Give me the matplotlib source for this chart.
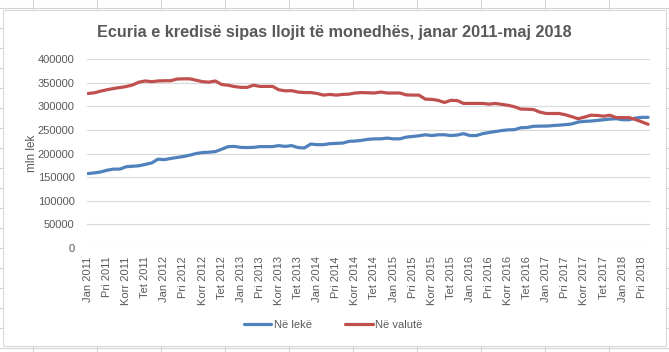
import matplotlib
matplotlib.use("Agg")
import matplotlib.pyplot as plt
from matplotlib.patches import Rectangle
from matplotlib.lines import Line2D

# ---- data (mln lek), monthly Jan 2011 - May 2018 ----
ne_leke = [157.6, 159, 161, 164.6, 167, 167, 172, 173, 174, 177, 180, 188, 187, 189.5,
           191.6, 193.7, 196.5, 200, 202, 202.7, 204, 209, 214.5, 215, 213, 212.5, 213,
           214.6, 214.6, 214.6, 216.7, 215, 216.7, 212.5, 211.8, 220, 218.7, 218.7, 220.8,
           221.5, 222, 225.7, 226.4, 227.8, 230, 231, 231, 232.6, 231, 231, 234.7, 236,
           237.5, 239.6, 238, 239.6, 239.6, 238, 239, 242, 238, 238, 242, 244.4, 246.5,
           248.6, 250, 250.5, 254.5, 255, 257.6, 258, 258, 259, 260, 261, 262.5, 266.6,
           268, 268.7, 270, 271.4, 272.8, 273.6, 271.4, 271.4, 275, 276.5, 276.5]
ne_valute = [327, 328.5, 332, 335, 337.5, 339.6, 341.7, 345, 351, 353.5, 352, 353.5, 354,
             354, 357.6, 358, 358, 355, 352, 351, 353.5, 346, 344.5, 341.7, 340, 340, 344.5,
             342, 342, 342, 334.7, 332.6, 333, 330, 329, 329, 327, 323.6, 325, 323.6, 325,
             325.7, 328, 329, 328.5, 328, 330, 328, 328, 328, 324, 323.6, 323.6, 315, 314.6,
             312.5, 308, 312.5, 312, 306, 306, 306, 306, 304.5, 306, 304, 302, 299, 294,
             293.7, 293, 287.5, 284.7, 284.7, 284.7, 282, 278, 273.6, 277, 281, 280.6, 279,
             281, 276, 276, 276, 272, 267, 261.8]
ne_leke = [v * 1000 for v in ne_leke]
ne_valute = [v * 1000 for v in ne_valute]

tick_months = ["Jan", "Pri", "Korr", "Tet"]
years = list(range(2011, 2019))
tick_labels = [f"{m} {y}" for y in years for m in tick_months][:30]
yticks = list(range(0, 400001, 50000))

title = "Ecuria e kredisë sipas llojit të monedhës, janar 2011-maj 2018"
series_names = ["Në lekë", "Në valutë"]
colors = ["#4F81BD", "#C0504D"]
text_color = "#595959"

plt.rcParams["font.family"] = ["Liberation Sans", "DejaVu Sans"]

W, H = 669, 352
fig = plt.figure(figsize=(W / 100, H / 100), dpi=100)

# spreadsheet grid behind chart
for x in range(33, W, 64):
    fig.add_artist(Line2D([x / W, x / W], [0, 1], color="#D4D4D4", lw=0.8, zorder=0))
for y in range(8, H, 20):
    fig.add_artist(Line2D([0, 1], [1 - y / H, 1 - y / H], color="#D4D4D4", lw=0.8, zorder=0))
# chart area
fig.add_artist(Rectangle((3 / W, 1 - 346 / H), (666 - 3) / W, (346 - 10) / H,
                         facecolor="white", edgecolor="#D9D9D9", lw=0.8, zorder=1))

ax = fig.add_axes([87 / W, 1 - 248 / H, (650 - 87) / W, (248 - 59) / H])
ax.set_zorder(2)
ax.patch.set_alpha(0)

x = list(range(len(ne_leke)))
ax.plot(x, ne_leke, color=colors[0], lw=2.3, label=series_names[0], solid_capstyle="round")
ax.plot(x, ne_valute, color=colors[1], lw=2.3, label=series_names[1], solid_capstyle="round")

ax.set_xlim(-0.16, len(x) - 1 + 0.3)
ax.set_ylim(0, 400000)
ax.set_yticks(yticks)
ax.set_yticklabels([str(v) for v in yticks])
ax.set_xticks(list(range(0, 3 * len(tick_labels), 3)))
ax.set_xticklabels(tick_labels, rotation=90, va="top", ha="center")
ax.grid(axis="y", color="#D9D9D9", lw=0.8)
ax.set_axisbelow(True)
for s in ax.spines.values():
    s.set_visible(False)
ax.tick_params(axis="both", length=0, colors=text_color, labelsize=8)
ax.tick_params(axis="y", pad=9)
ax.tick_params(axis="x", pad=6)
ax.set_ylabel("mln lek", color=text_color, fontsize=8.5, labelpad=0)

fig.text(334 / W, 1 - 32 / H, title, ha="center", va="center", fontsize=11.7,
         fontweight="bold", color=text_color, zorder=3)

leg = ax.legend(loc="center", bbox_to_anchor=(333 / W, 1 - 325 / H), bbox_transform=fig.transFigure,
                ncol=2, frameon=False, fontsize=8, handlelength=2.5, handletextpad=0.2,
                columnspacing=3)
for t in leg.get_texts():
    t.set_color(text_color)

fig.savefig("out.png", dpi=100)
